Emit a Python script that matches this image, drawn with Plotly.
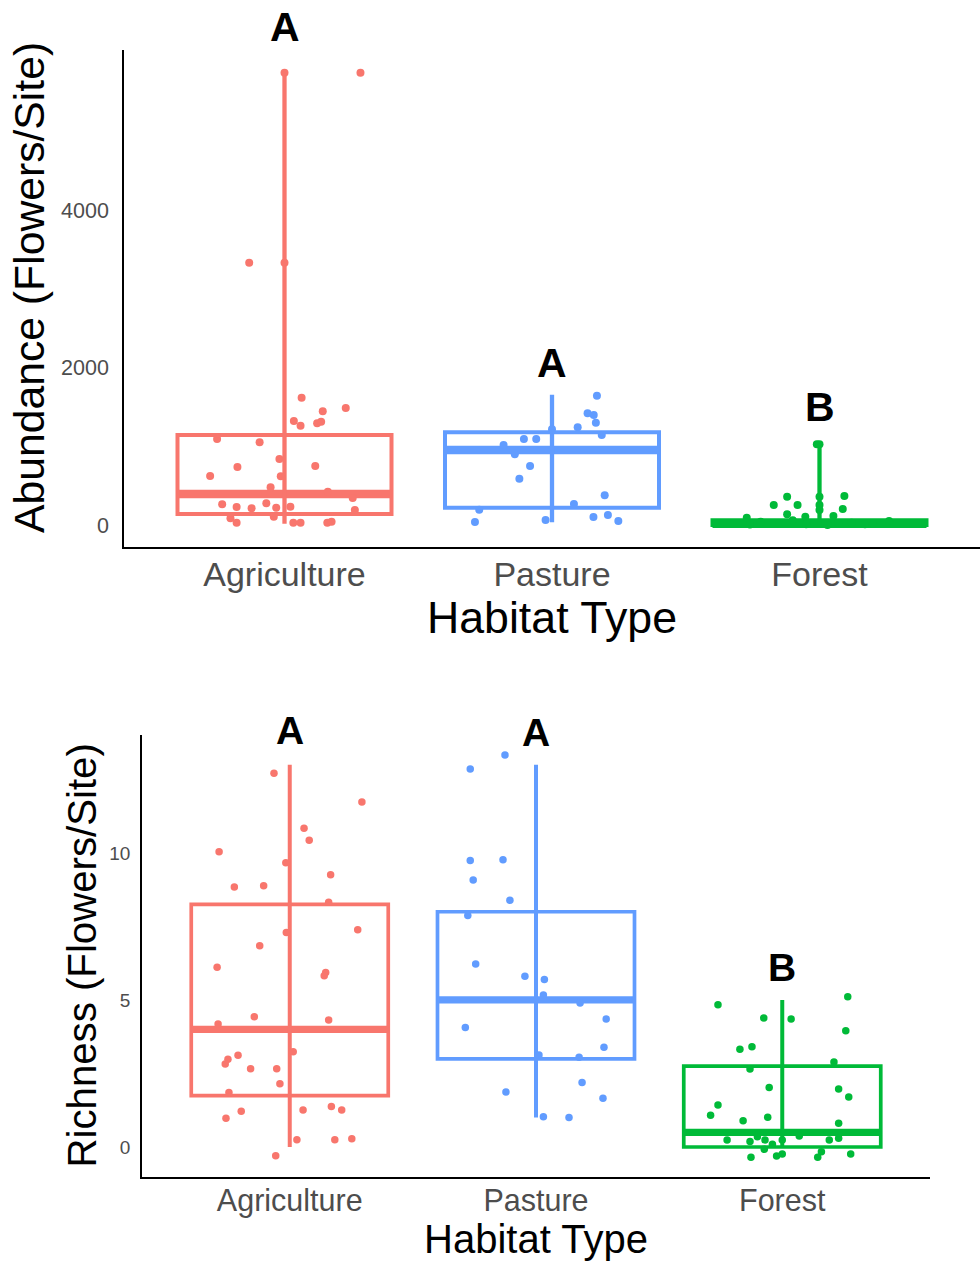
import plotly.graph_objects as go

# ---------------- data ----------------
categories = ["Agriculture", "Pasture", "Forest"]
colors = ["#F8766D", "#619CFF", "#00BA38"]

# Abundance (top panel) box statistics
ab_q1 = [140, 220, 0]
ab_med = [394, 953, 15]
ab_q3 = [1143, 1177, 60]
ab_min = [15, 34, 0]
ab_max = [5744, 1655, 1025]

# Abundance jittered points: values and horizontal jitter (category units)
ab_agri_vals = [5744, 3331, 1617, 1486, 1444, 1321, 1261, 1292, 1312, 1092, 1050, 838, 737, 749,
                622, 618, 478, 422, 343, 263, 229, 212, 276, 220, 232, 191, 85, 29, 105, 29, 29,
                29, 42]
ab_agri_jit = [0.284, -0.132, 0.064, 0.229, 0.143, 0.035, 0.060, 0.122, 0.137, -0.252, -0.093,
               -0.019, -0.176, 0.115, -0.278, -0.014, -0.052, 0.162, 0.255, -0.233, -0.179,
               -0.123, -0.068, -0.031, 0.022, 0.263, -0.202, -0.179, -0.040, 0.033, 0.060,
               0.160, 0.176]
ab_past_vals = [1642, 1419, 1397, 1299, 1241, 1143, 1092, 1092, 1016, 898, 749, 588, 377, 267,
                194, 38, 64, 102, 127, 51, 1215]
ab_past_jit = [0.168, 0.133, 0.156, 0.164, 0.096, 0.186, -0.105, -0.059, -0.181, -0.139, -0.082,
               -0.122, 0.197, 0.082, -0.272, -0.288, -0.024, 0.155, 0.209, 0.248, 0.0]
ab_for_vals = [1025, 359, 254, 254, 368, 203, 136, 105, 114, 93, 40, 20, 10, 0, 30, 15, 50, 5,
               25, 60, 8]
ab_for_jit = [-0.01, -0.121, -0.171, -0.082, 0.093, 0.087, -0.121, -0.053, 0.052, -0.272, -0.22,
              -0.15, -0.05, 0.03, 0.12, 0.2, 0.26, -0.26, 0.07, -0.1, 0.17]
# boxplot outliers (drawn at category centre)
ab_out_agri = [5744, 3331]
ab_out_past = []
ab_out_for = [1025, 359, 254, 191]

# Richness (bottom panel) box statistics
ri_q1 = [1.75, 3.0, 0.0]
ri_med = [4.0, 5.0, 0.5]
ri_q3 = [8.25, 8.0, 2.75]
ri_min = [0, 1, 0]
ri_max = [13, 13, 5]

ri_agri_vals = [12.71, 11.73, 10.84, 10.43, 10.04, 9.67, 9.26, 8.84, 8.88, 8.32, 7.29, 7.39, 6.84,
                6.11, 5.93, 5.82, 4.43, 4.32, 4.18, 3.24, 3.12, 2.98, 2.82, 2.66, 2.66, 2.15,
                1.85, 1.22, 0.98, 1.26, 1.38, 1.26, 0.25, 0.25, 0.28, -0.30]
ri_agri_jit = [-0.064, 0.293, 0.058, 0.079, -0.287, -0.016, 0.166, -0.225, -0.106, 0.158, -0.014,
               0.276, -0.122, -0.295, 0.146, 0.140, -0.144, 0.158, -0.291, 0.014, -0.210,
               -0.251, -0.262, -0.159, -0.053, -0.040, -0.247, -0.197, -0.259, 0.054, 0.169,
               0.211, 0.029, 0.183, 0.252, -0.057]
ri_past_vals = [13.33, 12.85, 9.74, 9.77, 9.08, 8.39, 7.87, 6.22, 5.81, 5.70, 5.17, 4.90, 4.35,
                4.06, 3.39, 3.13, 3.05, 2.19, 1.87, 1.66, 1.03, 1.00]
ri_past_jit = [-0.126, -0.267, -0.267, -0.134, -0.255, -0.106, -0.277, -0.245, -0.045, 0.034,
               0.030, 0.179, 0.285, -0.287, 0.276, 0.012, 0.175, 0.187, -0.122, 0.272, 0.030,
               0.134]
ri_for_vals = [5.11, 4.84, 4.39, 4.35, 3.95, 3.32, 3.41, 2.89, 2.65, 2.02, 1.97, 1.70, 1.43, 1.08,
               0.89, 1.01, 0.81, 0.35, 0.37, 0.24, 0.19, 0.24, 0.24, 0.24, 0.30, 0.09, -0.08,
               -0.35, -0.31, -0.24, -0.16, -0.35, -0.24]
ri_for_jit = [0.266, -0.261, -0.075, 0.036, 0.258, -0.172, -0.123, 0.210, -0.131, -0.053, 0.229,
              0.270, -0.261, -0.291, -0.159, -0.059, 0.229, -0.101, 0.069, -0.224, -0.131,
              -0.070, 0.0, 0.191, 0.229, -0.040, -0.073, -0.127, -0.023, 0.0, 0.159, 0.144,
              0.278]

# significance letters (y in data units)
ab_letters = ["A", "A", "B"]
ab_letter_y = [6325, 2057, 1499]
ri_letters = ["A", "A", "B"]
ri_letter_y = [14.18, 14.08, 6.09]

# ---------------- figure ----------------
W, H = 980, 1268
FONT = "Liberation Sans, Arial, sans-serif"
AB_RANGE = [-273, 6032]
RI_RANGE = [-1.02, 14.01]
fig = go.Figure()

BOX_W = 0.8


def add_panel(xa, ya, q1, med, q3, lo, hi, groups, outs, lw_box, lw_med, lw_wh, msize,
              letters, letter_y, letter_size, yrange):
    for i, cat in enumerate(categories):
        xc = i + 1
        c = colors[i]
        fig.add_trace(go.Box(
            x=[xc], q1=[q1[i]], median=[med[i]], q3=[q3[i]],
            lowerfence=[q1[i]], upperfence=[q3[i]], width=BOX_W, whiskerwidth=0,
            line=dict(color=c, width=lw_box), fillcolor="rgba(0,0,0,0)",
            boxpoints=False, showlegend=False, hoverinfo="skip",
            xaxis=xa, yaxis=ya))
        fig.add_trace(go.Scatter(
            x=[xc - BOX_W / 2, xc + BOX_W / 2], y=[med[i], med[i]], mode="lines",
            line=dict(color=c, width=lw_med), showlegend=False, hoverinfo="skip",
            xaxis=xa, yaxis=ya))
        fig.add_trace(go.Scatter(
            x=[xc, xc], y=[lo[i], hi[i]], mode="lines",
            line=dict(color=c, width=lw_wh), showlegend=False, hoverinfo="skip",
            xaxis=xa, yaxis=ya))
    for i, (vals, jit) in enumerate(groups):
        xc = i + 1
        fig.add_trace(go.Scatter(
            x=[xc + j for j in jit], y=vals, mode="markers",
            marker=dict(color=colors[i], size=msize, line=dict(width=0)),
            showlegend=False, name=categories[i], xaxis=xa, yaxis=ya))
        if outs[i]:
            fig.add_trace(go.Scatter(
                x=[xc] * len(outs[i]), y=outs[i], mode="markers",
                marker=dict(color=colors[i], size=msize, line=dict(width=0)),
                showlegend=False, name=categories[i], xaxis=xa, yaxis=ya))
    # letters: x in data units, y converted to the axis domain fraction
    for i, t in enumerate(letters):
        frac = (letter_y[i] - yrange[0]) / (yrange[1] - yrange[0])
        fig.add_annotation(x=i + 1, y=frac, xref=xa, yref=ya + " domain",
                           text="<b>%s</b>" % t, showarrow=False,
                           font=dict(family=FONT, size=letter_size, color="black"),
                           xanchor="center", yanchor="middle")


add_panel("x", "y", ab_q1, ab_med, ab_q3, ab_min, ab_max,
          [(ab_agri_vals, ab_agri_jit), (ab_past_vals, ab_past_jit), (ab_for_vals, ab_for_jit)],
          [ab_out_agri, ab_out_past, ab_out_for], 4, 8.5, 4.3, 8,
          ab_letters, ab_letter_y, 41, AB_RANGE)
add_panel("x2", "y2", ri_q1, ri_med, ri_q3, ri_min, ri_max,
          [(ri_agri_vals, ri_agri_jit), (ri_past_vals, ri_past_jit), (ri_for_vals, ri_for_jit)],
          [[], [], []], 3.7, 7.3, 4, 7.5,
          ri_letters, ri_letter_y, 39, RI_RANGE)

# y-axis titles (rotated text, centred where the reference has them)
fig.add_annotation(x=29 / W, y=1 - 288 / H, xref="paper", yref="paper",
                   text="Abundance (Flowers/Site)", textangle=-90, showarrow=False,
                   font=dict(family=FONT, size=42.7, color="black"),
                   xanchor="center", yanchor="middle")
fig.add_annotation(x=81.5 / W, y=1 - 956 / H, xref="paper", yref="paper",
                   text="Richness (Flowers/Site)", textangle=-90, showarrow=False,
                   font=dict(family=FONT, size=40.2, color="black"),
                   xanchor="center", yanchor="middle")

axis_common = dict(showline=True, linecolor="black", linewidth=1.6, showgrid=False,
                   zeroline=False, ticks="", mirror=False)

fig.update_layout(
    width=W, height=H,
    margin=dict(l=0, r=0, t=0, b=0),
    paper_bgcolor="white", plot_bgcolor="white",
    boxmode="overlay",
    font=dict(family=FONT),
    xaxis=dict(domain=[124 / W, 1.0], range=[0.4, 3.6], anchor="y",
               tickvals=[1, 2, 3], ticktext=categories,
               tickfont=dict(size=34, color="#4D4D4D", family=FONT),
               title=dict(text="Habitat Type", font=dict(size=44.7, color="black", family=FONT), standoff=2),
               ticklabelstandoff=-3, **axis_common),
    yaxis=dict(domain=[1 - 546.5 / H, 1 - 50 / H], range=AB_RANGE, anchor="x",
               tickvals=[0, 2000, 4000], ticktext=["0", "2000", "4000"],
               tickfont=dict(size=21.5, color="#4D4D4D", family=FONT),
               ticklabelstandoff=9, **axis_common),
    xaxis2=dict(domain=[142 / W, 930 / W], range=[0.4, 3.6], anchor="y2",
                tickvals=[1, 2, 3], ticktext=categories,
                tickfont=dict(size=30.5, color="#4D4D4D", family=FONT),
                title=dict(text="Habitat Type", font=dict(size=40, color="black", family=FONT), standoff=4),
                ticklabelstandoff=-4, **axis_common),
    yaxis2=dict(domain=[1 - 1177 / H, 1 - 735 / H], range=RI_RANGE, anchor="x2",
                tickvals=[0, 5, 10], ticktext=["0", "5", "10"],
                tickfont=dict(size=19, color="#4D4D4D", family=FONT),
                ticklabelstandoff=6, **axis_common),
)

fig.write_html("out.html")
